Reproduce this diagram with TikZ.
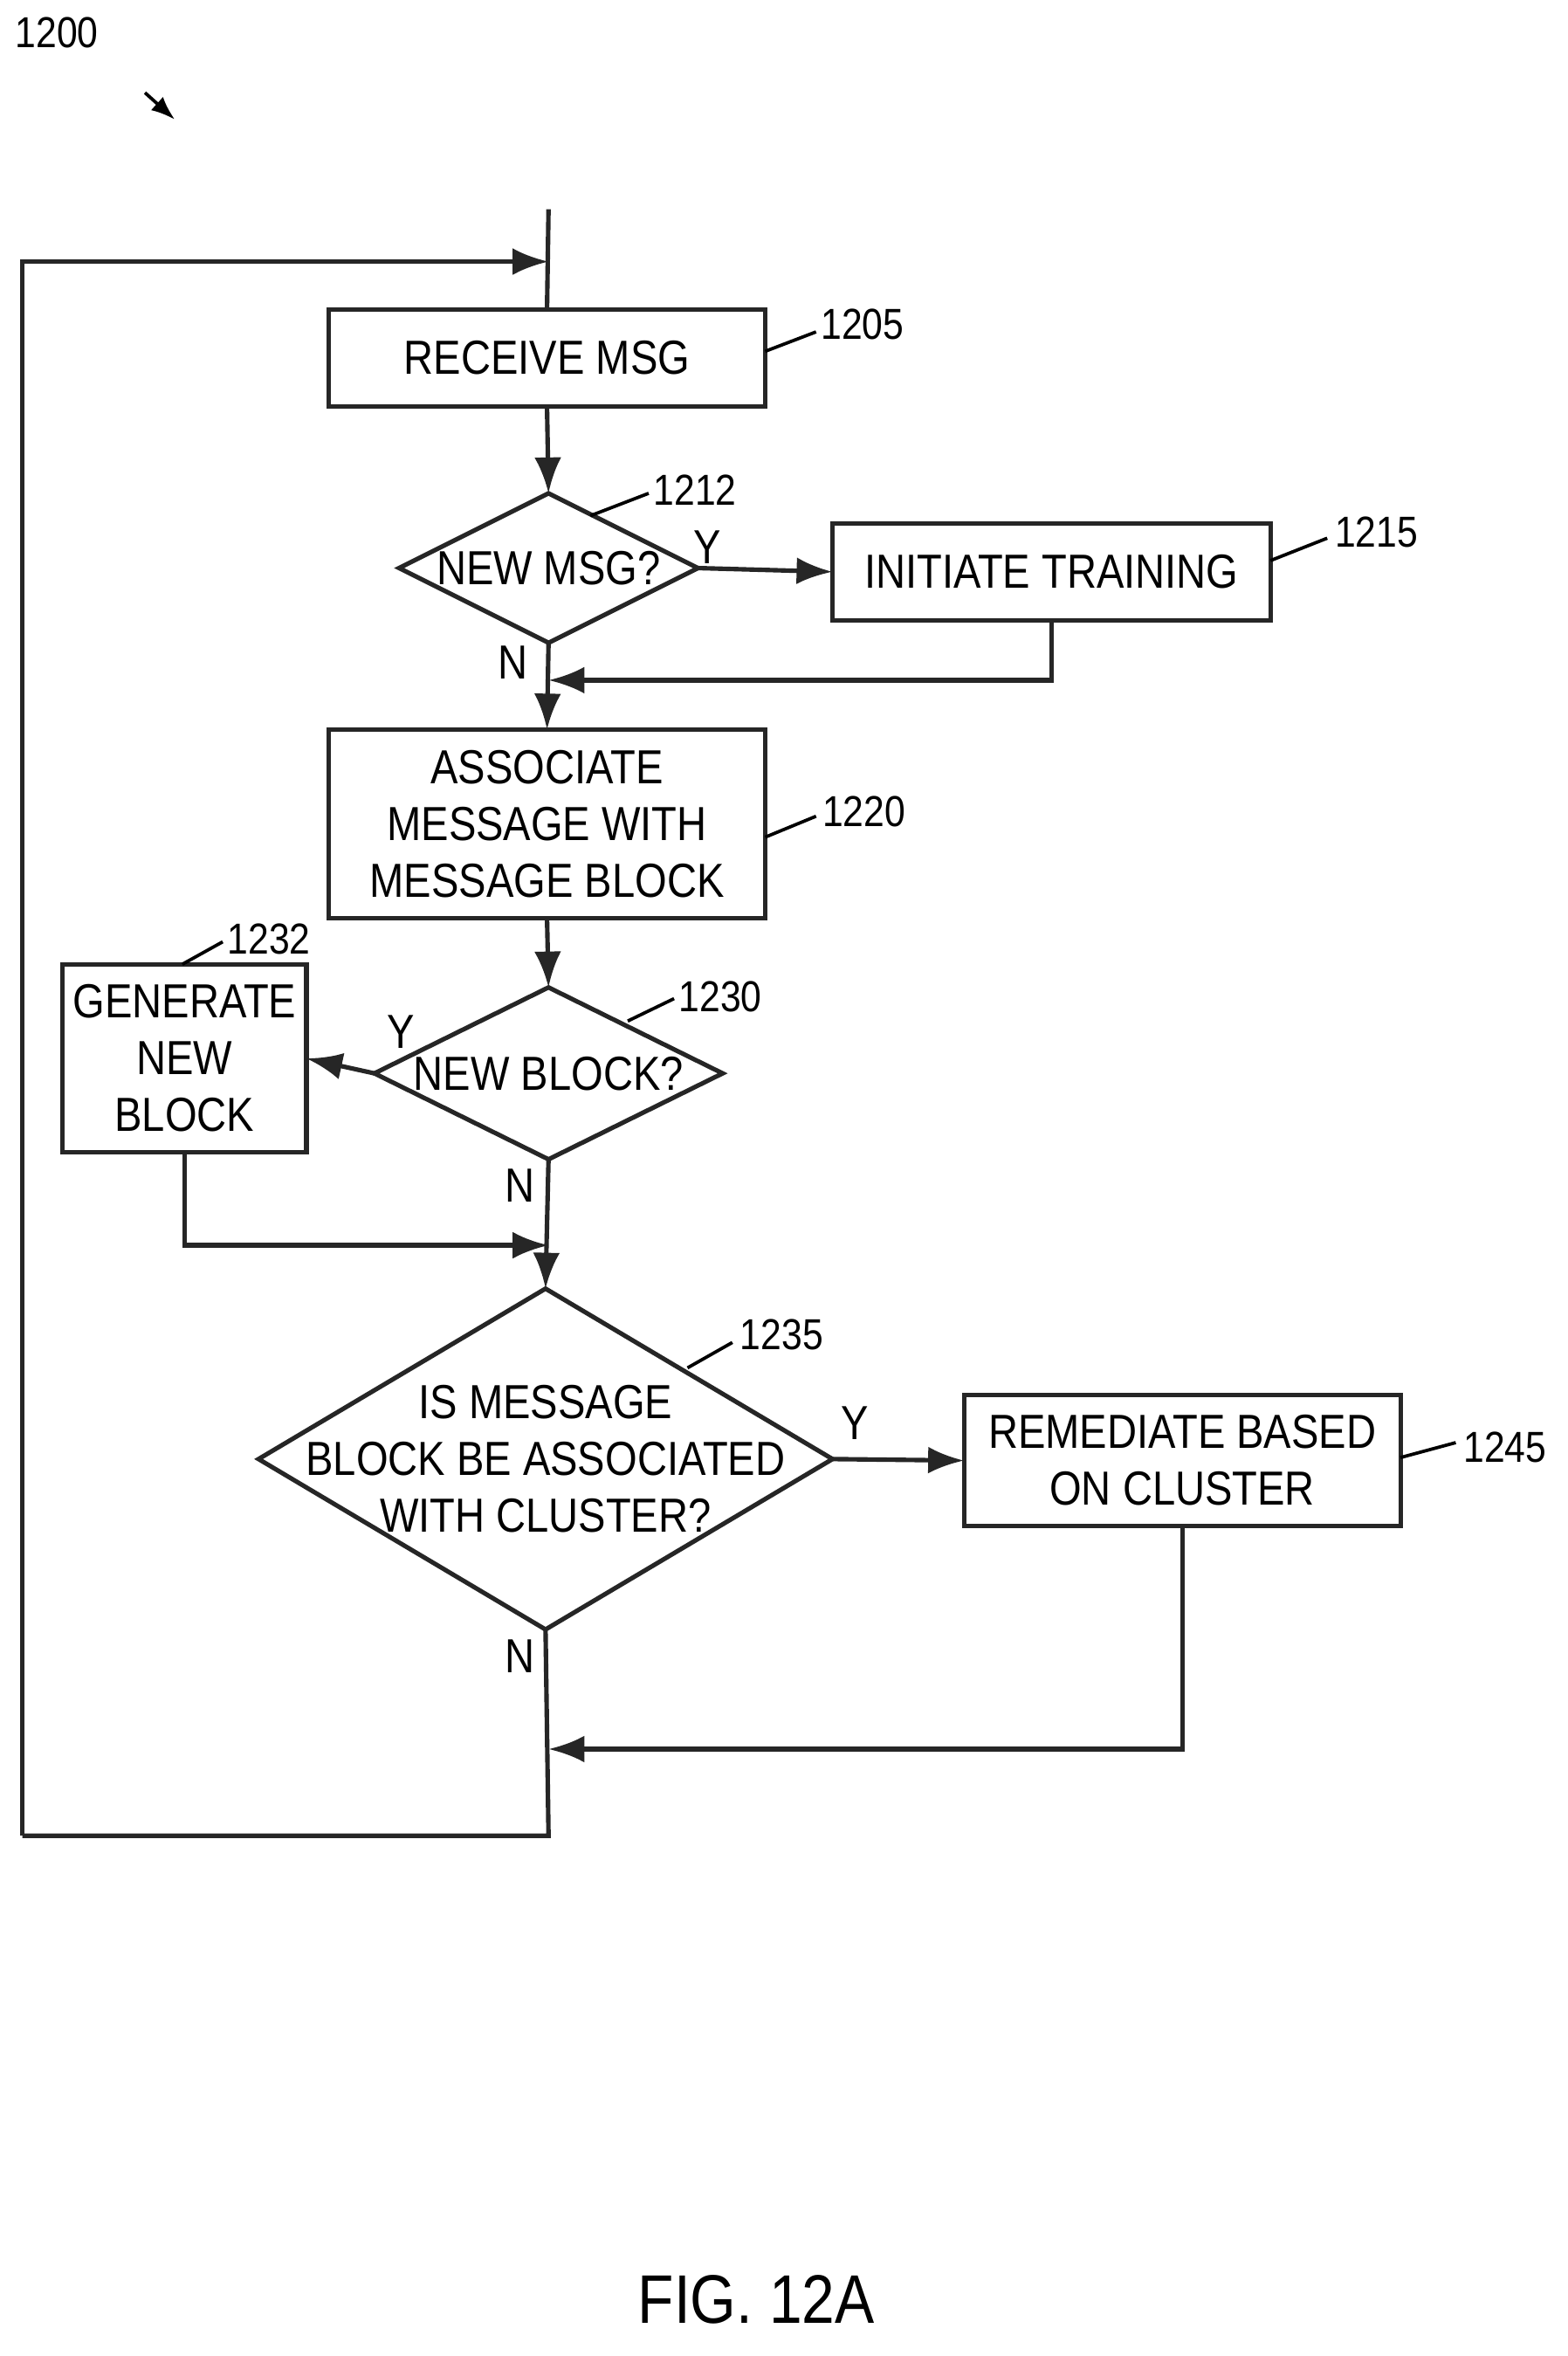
\documentclass[tikz,border=0pt]{standalone}
\usepackage{fontspec}
\setmainfont{Liberation Sans}[FakeStretch=0.86]
\usetikzlibrary{arrows.meta,shapes.geometric}
\begin{document}
\begin{tikzpicture}[x=1pt,y=-1pt,
  ln/.style={line width=3pt,draw=black!85},
  arr/.style={ln,-{Latex[length=24pt,width=18pt]}},
  box/.style={ln,draw,fill=white,inner sep=0pt,outer sep=0pt,align=center,font=\fontsize{32}{38}\selectfont},
  dia/.style={ln,draw,diamond,inner sep=0pt,outer sep=0pt},
  txt/.style={font=\fontsize{32}{38}\selectfont,inner sep=0pt},
  ref/.style={font=\fontsize{29}{34}\selectfont,inner sep=0pt},
  lead/.style={line width=2.2pt}]
\useasboundingbox (0,0) rectangle (1049,1576);
\node[ref] (r1200) at (38,22) {1200};
\coordinate (a1) at (97,62); \coordinate (a2) at (117,80);
\draw[lead,-{Latex[length=16pt,width=12pt]}] (a1) -- (a2);

\node[box,minimum width=292pt,minimum height=65pt] (b1205) at (366,239.5) {RECEIVE MSG};
\node[dia,aspect=2,minimum width=200pt,minimum height=100pt] (d1212) at (367,380) {};
\node[txt] at (d1212) {NEW MSG?};
\node[box,minimum width=293pt,minimum height=65pt] (b1215) at (703.5,382.5) {INITIATE TRAINING};
\node[box,minimum width=292pt,minimum height=126pt] (b1220) at (366,551) {ASSOCIATE\\MESSAGE WITH\\MESSAGE BLOCK};
\node[dia,aspect=2,minimum width=233pt,minimum height=115pt] (d1230) at (367,718) {};
\node[txt] at (d1230) {NEW BLOCK?};
\node[box,minimum width=163pt,minimum height=126pt] (b1232) at (123.5,708) {GENERATE\\NEW\\BLOCK};
\node[dia,aspect=1.68,minimum width=384pt,minimum height=228pt] (d1235) at (365,976) {};
\node[txt,align=center] at (d1235) {IS MESSAGE\\BLOCK BE ASSOCIATED\\WITH CLUSTER?};
\node[box,minimum width=292pt,minimum height=88pt] (b1245) at (791,977) {REMEDIATE BASED\\ON CLUSTER};

% refs
\node[ref] (r1205) at (577,217) {1205};
\draw[lead] (b1205.east |- 0,235) -- (546,222);
\node[ref] (r1212) at (465,328) {1212};
\draw[lead] (395,345) -- (434,330);
\node[ref] (r1215) at (921,356) {1215};
\draw[lead] (b1215.east |- 0,375) -- (888,360);
\node[ref] (r1220) at (578,543) {1220};
\draw[lead] (b1220.east |- 0,560) -- (546,546);
\node[ref] (r1230) at (482,667) {1230};
\draw[lead] (420,683) -- (451,668);
\node[ref] (r1232) at (180,628) {1232};
\draw[lead] (122,645) -- (149,630);
\node[ref] (r1235) at (523,893) {1235};
\draw[lead] (460,915) -- (490,898);
\node[ref] (r1245) at (1007,968) {1245};
\draw[lead] (b1245.east |- 0,975) -- (974,965);

% Y/N labels
\node[txt] at (473,366) {Y};
\node[txt] at (343,443) {N};
\node[txt] at (268,690) {Y};
\node[txt] at (348,793) {N};
\node[txt] at (572,952) {Y};
\node[txt] at (348,1108) {N};

% connectors
\coordinate (top) at (367,140);
\coordinate (loopT) at (15,175);
\coordinate (loopB) at (15,1228);
\coordinate (botR) at (367,1228);
\draw[ln] (top) -- (b1205.north);
\draw[arr] (loopB) -- (loopT) -- (367,175);
\draw[arr] (b1205.south) -- (d1212.north);
\draw[arr] (d1212.east) -- (b1215.west);
\draw[arr] (d1212.south) -- (b1220.north);
\draw[arr] (b1215.south) |- (367,455);
\draw[arr] (b1220.south) -- (d1230.north);
\draw[arr] (d1230.west) -- (b1232.east);
\draw[arr] (d1230.south) -- (d1235.north);
\draw[arr] (b1232.south) |- (367,833);
\draw[arr] (d1235.east) -- (b1245.west);
\draw[ln] (d1235.south) -- (botR) -- (loopB);
\draw[arr] (b1245.south) |- (367,1170);

\node[font=\fontsize{46}{52}\selectfont,inner sep=0pt] (fig) at (506,1538) {FIG. 12A};
\end{tikzpicture}
\end{document}
